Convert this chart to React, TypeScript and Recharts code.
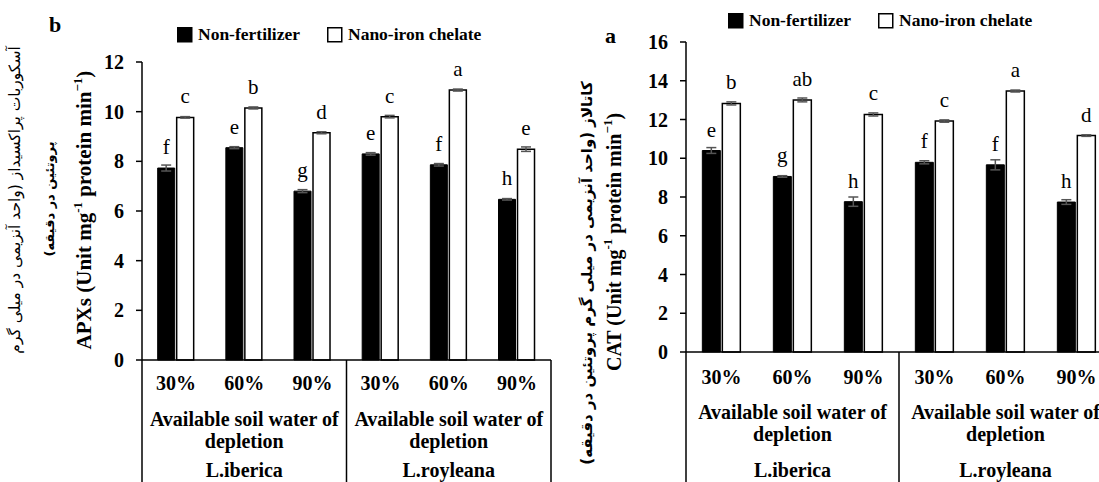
import React from "react";
import { BarChart, Bar, XAxis, YAxis, ErrorBar, LabelList, Legend } from "recharts";

// categories (soil water depletion levels, repeated per species)
const levels = ["30%", "60%", "90%", "30%", "60%", "90%"];
const groupLines = ["Available soil water of", "depletion"];
const species = ["L.iberica", "L.royleana"];
const seriesNames = ["Non-fertilizer", "Nano-iron chelate"];

// panel b: APXs
const apxNon = [7.73, 8.55, 6.8, 8.3, 7.86, 6.47];
const apxNonErr = [0.12, 0.04, 0.06, 0.05, 0.05, 0.03];
const apxNonLetters = ["f", "e", "g", "e", "f", "h"];
const apxNano = [9.77, 10.15, 9.15, 9.8, 10.87, 8.49];
const apxNanoErr = [0.03, 0.04, 0.04, 0.05, 0.04, 0.09];
const apxNanoLetters = ["c", "b", "d", "c", "a", "e"];
const apxTicks = [0, 2, 4, 6, 8, 10, 12];

// panel a: CAT
const catNon = [10.4, 9.06, 7.76, 9.79, 9.66, 7.74];
const catNonErr = [0.15, 0.04, 0.24, 0.08, 0.26, 0.12];
const catNonLetters = ["e", "g", "h", "f", "f", "h"];
const catNano = [12.83, 13.01, 12.26, 11.92, 13.47, 11.17];
const catNanoErr = [0.08, 0.1, 0.08, 0.06, 0.05, 0.04];
const catNanoLetters = ["b", "ab", "c", "c", "a", "d"];
const catTicks = [0, 2, 4, 6, 8, 10, 12, 14, 16];

const FONT = "'Liberation Serif', 'Times New Roman', serif";
const FA_FONT = "'DejaVu Sans', sans-serif";

function buildRows(non: number[], nonErr: number[], nonL: string[], nano: number[], nanoErr: number[], nanoL: string[]) {
  return levels.map((level, i) => ({
    level,
    non: non[i],
    nonErr: nonErr[i],
    nonL: nonL[i],
    nano: nano[i],
    nanoErr: nanoErr[i],
    nanoL: nanoL[i],
  }));
}

const apxRows = buildRows(apxNon, apxNonErr, apxNonLetters, apxNano, apxNanoErr, apxNanoLetters);
const catRows = buildRows(catNon, catNonErr, catNonLetters, catNano, catNanoErr, catNanoLetters);

const renderLetter = (props: any) => {
  const { x, y, width, value } = props;
  return (
    <text x={x + width / 2} y={y - 14} textAnchor="middle" fontFamily={FONT} fontSize={21} fill="#000">
      {value}
    </text>
  );
};

// rows: baselines below the axis line for level, two group lines, species
function makeTableTick(band: number, rows: number[]) {
  return (props: any) => {
    const { x, y, index, payload } = props;
    const g = Math.floor(index / 3);
    const txt = { textAnchor: "middle" as const, fontFamily: FONT, fontWeight: "bold", fontSize: 20, fill: "#000" };
    return (
      <g>
        <text x={x} y={y + rows[0]} {...txt}>{payload.value}</text>
        {index % 3 === 1 && (
          <>
            <text x={x} y={y + rows[1]} {...txt}>{groupLines[0]}</text>
            <text x={x} y={y + rows[2]} {...txt}>{groupLines[1]}</text>
            <text x={x} y={y + rows[3]} {...txt}>{species[g]}</text>
          </>
        )}
        {index % 3 === 0 && (
          <line x1={x - band / 2} x2={x - band / 2} y1={y} y2={y + 150} stroke="#000" strokeWidth={1.5} />
        )}
        {index === levels.length - 1 && (
          <line x1={x + band / 2} x2={x + band / 2} y1={y} y2={y + 150} stroke="#000" strokeWidth={1.5} />
        )}
      </g>
    );
  };
}

const LegendBox = (props: any) => {
  const { payload = [] } = props;
  const items = [...payload].sort((a: any, b: any) => seriesNames.indexOf(a.value) - seriesNames.indexOf(b.value));
  return (
    <svg width={330} height={22}>
      {items.map((p: any, i: number) => (
        <g key={i} transform={`translate(${i * 150},0)`}>
          <rect x={0.75} y={2.75} width={14} height={14} fill={p.color} stroke="#000" strokeWidth={1.5} />
          <text x={21} y={15} fontFamily={FONT} fontWeight="bold" fontSize={17.5} fill="#000">
            {p.value}
          </text>
        </g>
      ))}
    </svg>
  );
};

function rotText(x: number, y: number, content: React.ReactNode, extra: any = {}) {
  return (
    <text
      x={x}
      y={y}
      transform={`rotate(-90 ${x} ${y})`}
      textAnchor="middle"
      dominantBaseline="central"
      fill="#000"
      {...extra}
    >
      {content}
    </text>
  );
}

function unitLabel(prefix: string) {
  return (
    <>
      {prefix} (Unit mg
      <tspan dy={-7} fontSize={13}>-1</tspan>
      <tspan dy={7}> protein min</tspan>
      <tspan dy={-7} fontSize={13}>−1</tspan>
      <tspan dy={7}>)</tspan>
    </>
  );
}

const faStyle = { fontFamily: FA_FONT, fontSize: 15, direction: "rtl", unicodeBidi: "embed" };

const apxAxisLabel = (props: any) => {
  const { viewBox } = props;
  const cx = viewBox.x;
  const cy = viewBox.y + viewBox.height / 2;
  return (
    <g>
      <text x={49} y={32} fontFamily={FONT} fontWeight="bold" fontSize={22} fill="#000">b</text>
      {rotText(cx - 77, cy - 11, "آسکوربات پراکسیداز (واحد آنزیمی در میلی گرم", { style: { ...faStyle, fontSize: 15.5 } })}
      {rotText(cx - 43, cy - 12, "پروتئین در دقیقه)", { style: { ...faStyle, fontSize: 13, fontWeight: "bold" } })}
      {rotText(cx - 8, cy - 1, unitLabel("APXs"), { fontFamily: FONT, fontWeight: "bold", fontSize: 21 })}
    </g>
  );
};

const catAxisLabel = (props: any) => {
  const { viewBox } = props;
  const cx = viewBox.x;
  const cy = viewBox.y + viewBox.height / 2;
  return (
    <g>
      <text x={45} y={43} fontFamily={FONT} fontWeight="bold" fontSize={22} fill="#000">a</text>
      {rotText(cx - 49, cy + 76, "کاتالاز (واحد آنزیمی در میلی گرم پروتئین در دقیقه)", { style: { ...faStyle, fontWeight: "bold" } })}
      {rotText(cx - 22, cy + 45, unitLabel("CAT"), { fontFamily: FONT, fontWeight: "bold", fontSize: 20 })}
    </g>
  );
};

type PanelProps = {
  rows: any[];
  width: number;
  height: number;
  margin: { top: number; right: number; bottom: number; left: number };
  yAxisW: number;
  xAxisH: number;
  max: number;
  ticks: number[];
  tableRows: number[];
  legendPos: { left: number; top: number };
  axisLabel: (p: any) => React.ReactNode;
};

function Panel({ rows, width, height, margin, yAxisW, xAxisH, max, ticks, tableRows, legendPos, axisLabel }: PanelProps) {
  const plotW = width - margin.left - margin.right - yAxisW;
  const band = plotW / rows.length;
  return (
    <BarChart width={width} height={height} data={rows} margin={margin} barCategoryGap="23%" barGap={2}>
      <XAxis
        dataKey="level"
        interval={0}
        height={xAxisH}
        tickLine={false}
        tickSize={0}
        tickMargin={0}
        axisLine={{ stroke: "#000", strokeWidth: 1.5 }}
        tick={makeTableTick(band, tableRows)}
      />
      <YAxis
        width={yAxisW}
        domain={[0, max]}
        ticks={ticks}
        interval={0}
        tickSize={6}
        tickMargin={12}
        axisLine={{ stroke: "#000", strokeWidth: 1.5 }}
        tickLine={{ stroke: "#000", strokeWidth: 1.5 }}
        tick={{ fill: "#000", fontFamily: FONT, fontWeight: "bold", fontSize: 20 }}
        label={{ content: axisLabel }}
      />
      <Legend
        layout="vertical"
        verticalAlign="middle"
        align="center"
        content={<LegendBox />}
        wrapperStyle={{ left: legendPos.left, top: legendPos.top, width: 330, height: 22 }}
      />
      <Bar dataKey="non" name={seriesNames[0]} fill="#000" stroke="#000" strokeWidth={1} isAnimationActive={false}>
        <ErrorBar dataKey="nonErr" width={5} stroke="#555" strokeWidth={1.5} direction="y" isAnimationActive={false} />
        <LabelList dataKey="nonL" content={renderLetter} />
      </Bar>
      <Bar dataKey="nano" name={seriesNames[1]} fill="#fff" stroke="#000" strokeWidth={1.5} isAnimationActive={false}>
        <ErrorBar dataKey="nanoErr" width={5} stroke="#555" strokeWidth={1.5} direction="y" isAnimationActive={false} />
        <LabelList dataKey="nanoL" content={renderLetter} />
      </Bar>
    </BarChart>
  );
}

export default function App() {
  return (
    <div
      style={{
        position: "absolute",
        left: 0,
        top: 0,
        width: 1099,
        height: 482,
        overflow: "hidden",
        background: "#fff",
      }}
    >
      <div style={{ position: "absolute", left: 0, top: 0 }}>
        <Panel
          rows={apxRows}
          width={560}
          height={482}
          margin={{ top: 62, right: 9, bottom: 0, left: 92 }}
          yAxisW={50}
          xAxisH={122}
          max={12}
          ticks={apxTicks}
          tableRows={[30, 66, 88, 117]}
          legendPos={{ left: 177, top: 25 }}
          axisLabel={apxAxisLabel}
        />
      </div>
      <div style={{ position: "absolute", left: 560, top: 0 }}>
        <Panel
          rows={catRows}
          width={560}
          height={482}
          margin={{ top: 42, right: 8, bottom: 0, left: 76 }}
          yAxisW={50}
          xAxisH={130}
          max={16}
          ticks={catTicks}
          tableRows={[32, 67, 89, 125]}
          legendPos={{ left: 168, top: 11 }}
          axisLabel={catAxisLabel}
        />
      </div>
    </div>
  );
}
